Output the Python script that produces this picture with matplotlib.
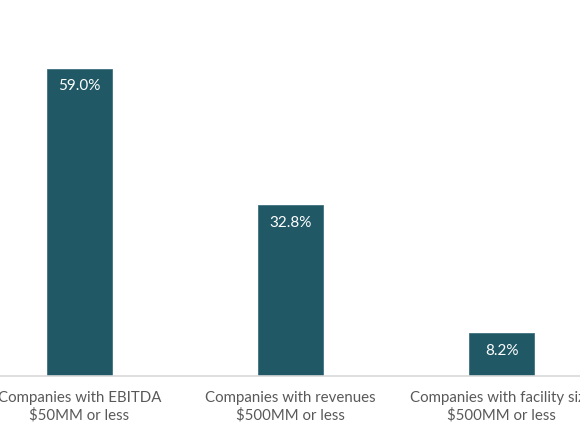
import matplotlib
matplotlib.use("Agg")
from matplotlib import pyplot as plt

categories = ["Companies with EBITDA\n$50MM or less",
              "Companies with revenues\n$500MM or less",
              "Companies with facility size\n$500MM or less"]
values = [59.0, 32.8, 8.2]
value_labels = ["59.0%", "32.8%", "8.2%"]

plt.rcParams['font.family'] = ['Lato', 'DejaVu Sans']

fig = plt.figure(figsize=(5.8, 4.35), dpi=100)
ax = fig.add_axes([0, 58 / 435, 1, 377 / 435])

x = range(len(values))
bars = ax.bar(x, values, width=0.31, color='#215866', edgecolor='#3f7280', linewidth=0.6, zorder=2)

for rect, lab in zip(bars, value_labels):
    ax.annotate(lab, (rect.get_x() + rect.get_width() / 2, rect.get_height()),
                xytext=(0, -7), textcoords='offset points',
                ha='center', va='top', color='white', fontsize=11)

ax.set_xlim(-0.377, 2.372)
ax.set_ylim(0, 72.4)
ax.set_xticks(list(x))
ax.set_xticklabels(categories, fontsize=10.8, color='#595959', linespacing=1.3)
ax.tick_params(axis='x', length=0, pad=10)
ax.set_yticks([])
for side in ['top', 'left', 'right']:
    ax.spines[side].set_visible(False)
ax.spines['bottom'].set_color('#d9d9d9')
ax.spines['bottom'].set_linewidth(1.2)

fig.savefig('out.png', dpi=100)
